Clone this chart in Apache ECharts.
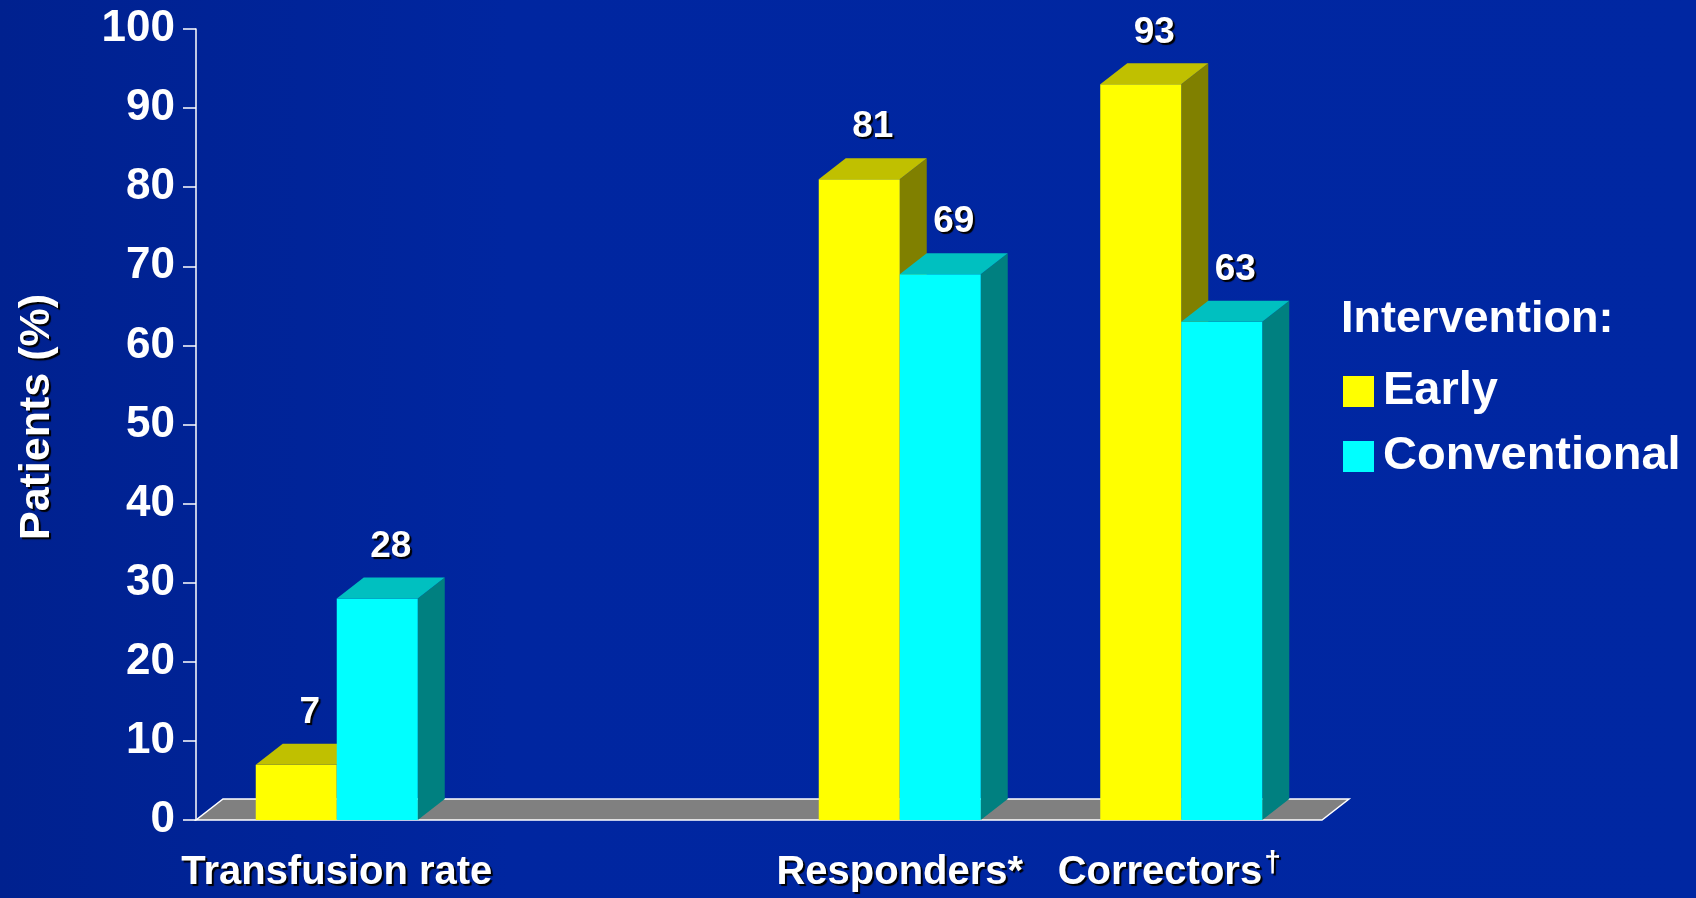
<!DOCTYPE html>
<html>
<head>
<meta charset="utf-8">
<title>Patients (%)</title>
<script src="https://cdn.jsdelivr.net/npm/echarts@6/dist/echarts.min.js"></script>
<style>
  html, body { margin: 0; padding: 0; background: #0027a0; }
  #chart-panel { width: 1696px; height: 898px; }
</style>
</head>
<body>
<div id="chart-panel"></div>
<script>
// chart values
var categories = ['Transfusion rate', '', 'Responders*', 'Correctors\u2020'];
var earlyValues = [7, null, 81, 93];
var conventionalValues = [28, null, 69, 63];
var yTicks = { min: 0, max: 100, interval: 10 };

var FONT = '"Liberation Sans", Arial, sans-serif';
var BAR_W = 81;   // front face width
var DX = 27;      // depth offset
var DY = 21;

var myChart = echarts.init(document.getElementById('chart-panel'));

function bar3d(slot, front, topc, side) {
  return function (params, api) {
    var v = api.value(1);
    if (v == null || isNaN(v)) return;
    var base = api.coord([api.value(0), 0]);
    var top = api.coord([api.value(0), v]);
    var x0 = base[0] + slot * BAR_W;
    var x1 = x0 + BAR_W;
    var yb = base[1], yt = top[1];
    return {
      type: 'group',
      children: [
        { type: 'polygon', shape: { points: [[x1, yb], [x1 + DX, yb - DY], [x1 + DX, yt - DY], [x1, yt]] },
          style: { fill: side } },
        { type: 'rect', shape: { x: x0, y: yt, width: BAR_W, height: yb - yt },
          style: { fill: front } },
        { type: 'polygon', shape: { points: [[x0, yt], [x0 + DX, yt - DY], [x1 + DX, yt - DY], [x1, yt]] },
          style: { fill: topc } },
        { type: 'text',
          style: { text: String(v), x: x0 + BAR_W / 2 + DX / 2, y: yt - DY - 31,
            align: 'center', verticalAlign: 'middle', fill: '#fff',
            font: 'bold 37px ' + FONT,
            textShadowColor: '#000', textShadowOffsetX: 2, textShadowOffsetY: 2, textShadowBlur: 1 } }
      ]
    };
  };
}

function floor(params, api) {
  var cs = params.coordSys;
  var yb = cs.y + cs.height;
  return {
    type: 'polygon',
    shape: { points: [[cs.x, yb], [cs.x + cs.width, yb], [cs.x + cs.width + DX, yb - DY], [cs.x + DX, yb - DY]] },
    style: { fill: '#808080', stroke: '#ffffff', lineWidth: 1.5 }
  };
}

myChart.setOption({
  backgroundColor: {
    type: 'linear', x: 0, y: 0, x2: 1, y2: 0,
    colorStops: [
      { offset: 0, color: '#00218f' },
      { offset: 0.3, color: '#0026a0' },
      { offset: 1, color: '#0027a2' }
    ]
  },
  textStyle: { fontFamily: FONT },
  animation: false,
  title: {
    text: 'Intervention:',
    left: 1336, top: 292,
    textStyle: { color: '#fff', fontSize: 45, fontWeight: 'bold', fontFamily: FONT }
  },
  legend: {
    data: ['Early', 'Conventional'],
    orient: 'vertical',
    left: 1338, top: 363,
    icon: 'rect',
    itemWidth: 31, itemHeight: 31,
    itemGap: 18,
    textStyle: { color: '#fff', fontSize: 47, fontWeight: 'bold', fontFamily: FONT, padding: [0, 0, 0, 4] }
  },
  grid: { left: 196, right: 374, top: 29, bottom: 74 },
  xAxis: {
    type: 'category',
    data: categories,
    axisLine: { show: false },
    axisTick: { show: false },
    axisLabel: {
      interval: 0,
      color: '#fff', fontSize: 40, fontWeight: 'bold', margin: 28, lineHeight: 50,
      textShadowColor: '#000', textShadowOffsetX: 2, textShadowOffsetY: 2, textShadowBlur: 1,
      formatter: function (s) { return s.replace('\u2020', '{sup|\u2020}'); },
      rich: { sup: { fontSize: 30, fontWeight: 'bold', color: '#fff', lineHeight: 50, padding: [0, 24, 18, 2] } }
    }
  },
  yAxis: {
    type: 'value',
    min: yTicks.min, max: yTicks.max, interval: yTicks.interval,
    name: 'Patients (%)',
    nameLocation: 'middle',
    nameGap: 137,
    nameTextStyle: {
      color: '#fff', fontSize: 43, fontWeight: 'bold', padding: [0, 0, 0, 15],
      textShadowColor: '#000', textShadowOffsetX: 2, textShadowOffsetY: 2, textShadowBlur: 1
    },
    axisLine: { show: true, lineStyle: { color: '#fff', width: 1.5 } },
    axisTick: { show: true, length: 13, lineStyle: { color: '#fff', width: 1.5 } },
    axisLabel: { color: '#fff', fontSize: 44, fontWeight: 'bold', margin: 21 },
    splitLine: { show: false }
  },
  series: [
    {
      name: 'floor', type: 'custom', renderItem: floor, data: [[0, 0]], silent: true, z: 1
    },
    {
      name: 'Early', type: 'custom', z: 2,
      itemStyle: { color: '#ffff00' },
      renderItem: bar3d(-1, '#ffff00', '#c0c000', '#808000'),
      data: earlyValues.map(function (v, i) { return [i, v]; })
    },
    {
      name: 'Conventional', type: 'custom', z: 3,
      itemStyle: { color: '#00ffff' },
      renderItem: bar3d(0, '#00ffff', '#00c0c0', '#008080'),
      data: conventionalValues.map(function (v, i) { return [i, v]; })
    }
  ]
});
</script>
</body>
</html>
